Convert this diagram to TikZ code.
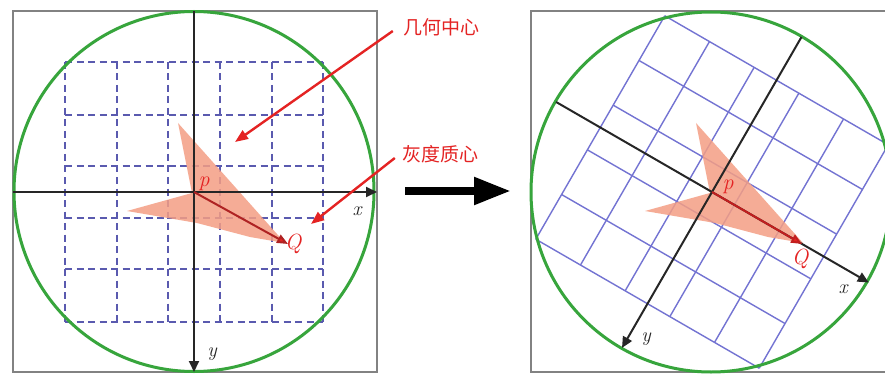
\documentclass[tikz,border=0pt]{standalone}
\usepackage{fontspec}
\newfontfamily\cjk{Noto Sans CJK SC}
\usetikzlibrary{arrows.meta}
\definecolor{boxgray}{RGB}{130,130,130}
\definecolor{cgreen}{RGB}{55,165,60}
\definecolor{gridblue}{RGB}{90,90,175}
\definecolor{gridblue2}{RGB}{115,115,210}
\definecolor{lred}{RGB}{228,35,35}
\definecolor{darkred}{RGB}{175,35,35}
\definecolor{pinkfill}{RGB}{244,158,132}
\tikzset{
  panelbox/.style={draw=boxgray,line width=2pt},
  dgrid/.style={draw=gridblue,line width=2pt,dash pattern=on 7pt off 4.5pt},
  sgrid/.style={draw=gridblue2,line width=1.4pt},
  greencircle/.style={draw=cgreen,line width=3pt},
  axis/.style={draw=black!85,line width=2pt,-{Triangle[length=11pt,width=10pt]}},
  blob/.style={fill=pinkfill,fill opacity=0.85},
  pq/.style={draw=darkred,line width=2pt,-{Triangle[length=11pt,width=9pt,fill=lred]}},
  pq2/.style={draw=lred!85!black,line width=2pt,-{Triangle[length=11pt,width=9pt,fill=lred]}},
  redarrow/.style={draw=lred,line width=2.4pt,-{Triangle[length=13pt,width=10pt]}},
  bigarrow/.style={draw=black,line width=8pt,-{Triangle[length=37pt,width=26pt]}},
  cjklabel/.style={text=lred,font=\cjk\fontsize{19}{22}\selectfont,inner sep=0pt},
  redmath/.style={text=lred,font=\fontsize{22}{24}\selectfont\itshape,inner sep=0pt},
  axlabel/.style={text=black!85,font=\fontsize{20}{22}\selectfont\itshape,inner sep=0pt}
}
\begin{document}
\begin{tikzpicture}[x=1pt,y=-1pt]
\useasboundingbox (0,0) rectangle (885,374);
\clip (0,0) rectangle (885,374);
\fill[white] (0,0) rectangle (885,374);

% ---------------- left panel ----------------
\draw[panelbox] (13,11) rectangle (377,372);
\foreach \gx in {65,117,168,220,272,323}{
  \draw[dgrid] (\gx,62) -- (\gx,322);
}
\foreach \gy in {62,115,166,218,269,322}{
  \draw[dgrid] (65,\gy) -- (323,\gy);
}
\begin{scope}[shift={(194,192)}]
  \fill[blob] (-16,-69) -- (91,51) -- (56,45) -- (3,31) -- (-67,19) -- (-2,1) -- cycle;
\end{scope}
\node[circle,greencircle,minimum size=360pt,inner sep=0pt] (lcirc) at (194,191.5) {};
\coordinate (lxs) at (13,192);
\coordinate (lxe) at (377,192);
\coordinate (lys) at (194,11);
\coordinate (lye) at (194,372);
\draw[axis] (lxs) -- (lxe);
\draw[axis] (lys) -- (lye);
\coordinate (lP) at (194,192);
\coordinate (lQ) at (288,244);
\draw[pq] (lP) -- (lQ);
\node[redmath] (lp) at (204,184) {p};
\node[redmath] (lq) at (293,244) {Q};
\node[axlabel] (lx) at (357,211) {x};
\node[axlabel] (ly) at (212,354) {y};

% ---------------- labels and red arrows ----------------
\node[cjklabel] (geo) at (441,27) {几何中心};
\node[cjklabel] (gray) at (440,154) {灰度质心};
\coordinate (geotip) at (235,142);
\coordinate (graytip) at (311,224);
\draw[redarrow] ([shift={(-10,4)}]geo.west) -- (geotip);
\draw[redarrow] ([shift={(-7,4)}]gray.west) -- (graytip);

% ---------------- big arrow ----------------
\coordinate (bigA) at (405,191);
\coordinate (bigB) at (511,191);
\draw[bigarrow] (bigA) -- (bigB);

% ---------------- right panel ----------------
\draw[panelbox] (531,11) rectangle (900,372);
\begin{scope}[shift={(712,192)},rotate=-30]
  \foreach \i in {-2.5,-1.5,...,2.5}{
    \draw[sgrid] (\i*51.6,-129) -- (\i*51.6,129);
    \draw[sgrid] (-129,\i*51.6) -- (129,\i*51.6);
  }
\end{scope}
\begin{scope}[shift={(712,192)}]
  \fill[blob] (-16,-69) -- (91,51) -- (56,45) -- (3,31) -- (-67,19) -- (-2,1) -- cycle;
\end{scope}
\node[circle,greencircle,minimum size=360pt,inner sep=0pt] (rcirc) at (711,192) {};
\begin{scope}[shift={(712,192)},rotate=-30]
  \coordinate (rxs) at (-180,0);
  \coordinate (rxe) at (181,0);
  \coordinate (rys) at (0,-179);
  \coordinate (rye) at (0,180);
  \coordinate (rP) at (0,0);
  \coordinate (rQ) at (104,0);
\end{scope}
\draw[axis] (rxs) -- (rxe);
\draw[axis] (rys) -- (rye);
\draw[pq2] (rP) -- (rQ);
\node[redmath] (rp) at (728,187) {p};
\node[redmath] (rq) at (800,259) {Q};
\node[axlabel] (rx) at (843,289) {x};
\node[axlabel] (ry) at (646,339) {y};
\end{tikzpicture}
\end{document}
